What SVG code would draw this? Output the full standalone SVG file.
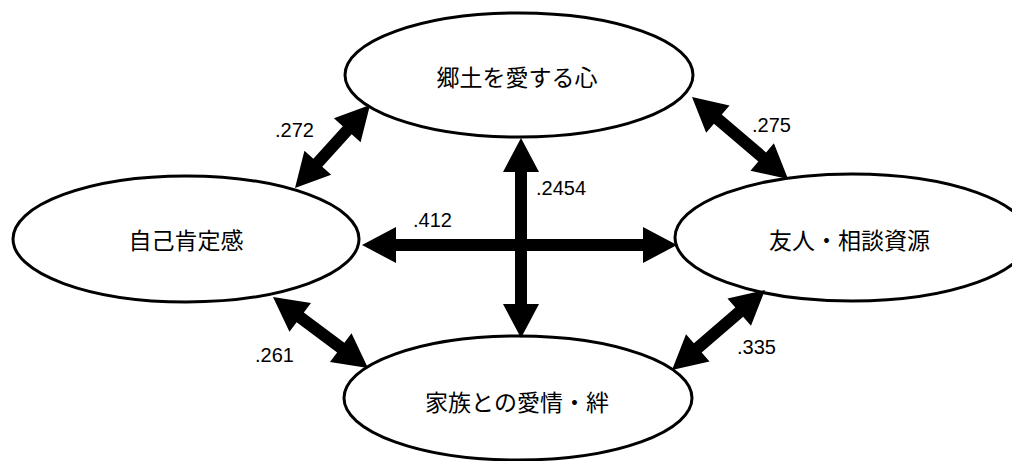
<svg xmlns="http://www.w3.org/2000/svg" width="1012" height="461" viewBox="0 0 1012 461">
<style>
.node ellipse{fill:#fff;stroke:#000;stroke-width:3}
.node text{font-family:"Noto Sans CJK JP","Noto Sans CJK SC",sans-serif;font-size:23px;fill:#000;text-anchor:middle}
.lbl{font-family:"Liberation Sans",Arial,sans-serif;font-size:20px;fill:#000}
.arr{fill:#000;stroke:none}
</style>
<rect width="1012" height="461" fill="#fff"/>
<g id="node-kyodo" class="node">
<ellipse cx="519" cy="75" rx="174" ry="62"/>
<text x="517" y="86">郷土を愛する心</text>
</g>
<g id="node-jiko" class="node">
<ellipse cx="186" cy="239" rx="173" ry="63"/>
<text x="186" y="249">自己肯定感</text>
</g>
<g id="node-yujin" class="node">
<ellipse cx="852" cy="237.5" rx="177" ry="63.5"/>
<text x="849.5" y="249">友人・相談資源</text>
</g>
<g id="node-kazoku" class="node">
<ellipse cx="518" cy="398" rx="174" ry="62"/>
<text x="517" y="411">家族との愛情・絆</text>
</g>
<g id="connectors">
<path class="arr" transform="translate(521,138) rotate(90)" d="M0,0 L34,-18 L34,-6 L166,-6 L166,-18 L200,0 L166,18 L166,6 L34,6 L34,18 Z"/>
<path class="arr" transform="translate(362,245)" d="M0,0 L34,-18 L34,-6 L281,-6 L281,-18 L315,0 L281,18 L281,6 L34,6 L34,18 Z"/>
<path class="arr" transform="translate(295,188) rotate(-47.9)" d="M0,0 L34,-18 L34,-6 L77.9,-6 L77.9,-18 L111.9,0 L77.9,18 L77.9,6 L34,6 L34,18 Z"/>
<path class="arr" transform="translate(273,297) rotate(36.8)" d="M0,0 L34,-18 L34,-6 L84.6,-6 L84.6,-18 L118.6,0 L84.6,18 L84.6,6 L34,6 L34,18 Z"/>
<path class="arr" transform="translate(672,370) rotate(-40.7)" d="M0,0 L34,-18 L34,-6 L88.7,-6 L88.7,-18 L122.7,0 L88.7,18 L88.7,6 L34,6 L34,18 Z"/>
<path class="arr" transform="translate(692,97) rotate(40.5)" d="M0,0 L34,-18 L34,-6 L92.3,-6 L92.3,-18 L126.3,0 L92.3,18 L92.3,6 L34,6 L34,18 Z"/>
</g>
<g id="labels">
<text class="lbl" x="275" y="137">.272</text>
<text class="lbl" x="752" y="132">.275</text>
<text class="lbl" x="536" y="195">.2454</text>
<text class="lbl" x="413" y="227">.412</text>
<text class="lbl" x="255" y="362">.261</text>
<text class="lbl" x="737" y="354">.335</text>
</g>
</svg>
